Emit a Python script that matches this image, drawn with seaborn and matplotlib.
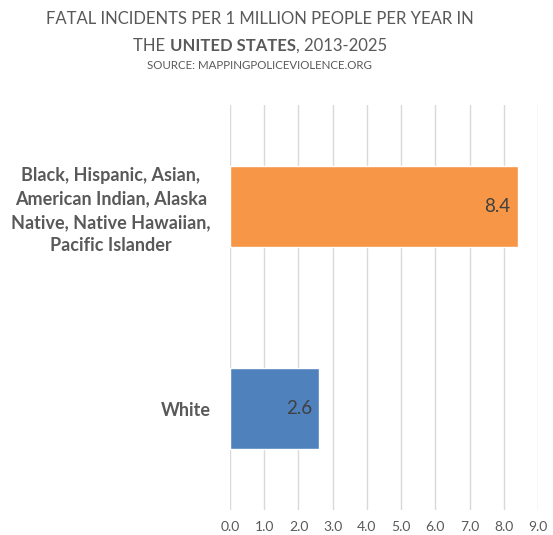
import seaborn as sns
import matplotlib.pyplot as plt
import pandas as pd

groups = ["Black, Hispanic, Asian,\nAmerican Indian, Alaska\nNative, Native Hawaiian,\nPacific Islander", "White"]
rates = [8.4, 2.6]
bar_colors = ["#F79646", "#4F81BD"]
xticks = [0, 1, 2, 3, 4, 5, 6, 7, 8, 9]

df = pd.DataFrame({"group": groups, "rate": rates})

sns.set_style("white")
plt.rcParams["font.family"] = ["Lato", "DejaVu Sans"]

fig = plt.figure(figsize=(5.53, 5.35), dpi=100)
ax = fig.add_axes([0.416, 0.047, 0.557, 0.757])

sns.barplot(data=df, x="rate", y="group", hue="group", palette=bar_colors,
            legend=False, width=0.4, ax=ax, saturation=1)

ax.set_xlim(0, 9)
ax.set_ylim(1.5, -0.5)
ax.set_xticks(xticks)
ax.set_xticklabels([f"{t:.1f}" for t in xticks])
ax.grid(axis="x", color="#d9d9d9", linewidth=1)
ax.set_axisbelow(True)
for s in ax.spines.values():
    s.set_visible(False)
ax.set_xlabel("")
ax.set_ylabel("")
ax.tick_params(axis="x", length=0, labelsize=10, labelcolor="#595959", pad=8)
ax.tick_params(axis="y", length=0, labelsize=13, labelcolor="#595959", pad=14)
for lbl in ax.get_yticklabels():
    lbl.set_fontweight("bold")
    lbl.set_multialignment("center")
    lbl.set_linespacing(1.45)

for i, v in enumerate(rates):
    ax.text(v - 0.2, i, f"{v:.1f}", ha="right", va="center", fontsize=13.5, color="#404040")

# title, second line has a bold part
tc = "#595959"
fig.text(0.47, 0.965, "FATAL INCIDENTS PER 1 MILLION PEOPLE PER YEAR IN",
         ha="center", va="center", fontsize=12, color=tc)
parts = [("THE ", "normal"), ("UNITED STATES", "bold"), (", 2013-2025", "normal")]
fig.canvas.draw()
r = fig.canvas.get_renderer()
objs = []
for txt, w in parts:
    objs.append(fig.text(0, 0.914, txt, ha="left", va="center", fontsize=12,
                         color=tc, fontweight=w))
widths = [o.get_window_extent(r).width for o in objs]
x0 = 0.47 * fig.bbox.width - sum(widths) / 2
for o, w in zip(objs, widths):
    o.set_x(x0 / fig.bbox.width)
    x0 += w
fig.text(0.47, 0.877, "SOURCE: MAPPINGPOLICEVIOLENCE.ORG",
         ha="center", va="center", fontsize=8.3, color=tc)

fig.savefig("out.png", dpi=100)
